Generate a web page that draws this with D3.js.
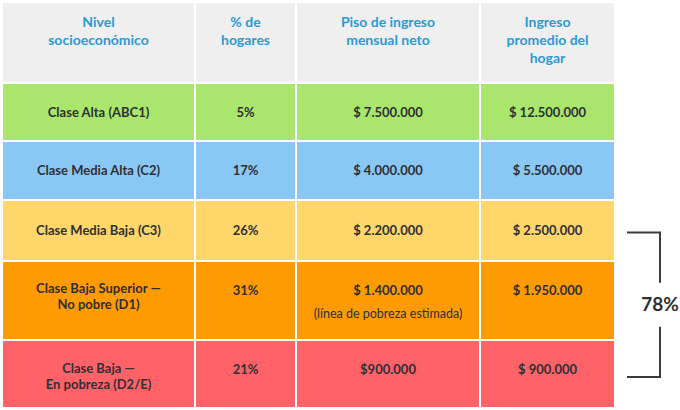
<!DOCTYPE html>
<html>
<head>
<meta charset="utf-8">
<script src="https://cdn.jsdelivr.net/npm/d3@7"></script>
<style>
  body { margin: 0; background: #fff; }
  svg { display: block; font-family: Lato, "Open Sans", sans-serif; }
</style>
</head>
<body>
<svg id="chart" width="680" height="410"></svg>
<script>
// --- datos de la tabla ---
const encabezados = [
  ["Nivel", "socioeconómico"],
  ["% de", "hogares"],
  ["Piso de ingreso", "mensual neto"],
  ["Ingreso", "promedio del", "hogar"]
];
const niveles = [
  ["Clase Alta (ABC1)"],
  ["Clase Media Alta (C2)"],
  ["Clase Media Baja (C3)"],
  ["Clase Baja Superior —", "No pobre (D1)"],
  ["Clase Baja —", "En pobreza (D2/E)"]
];
const hogares = [5, 17, 26, 31, 21];
const pisoIngreso = ["$ 7.500.000", "$ 4.000.000", "$ 2.200.000", "$ 1.400.000", "$900.000"];
const ingresoPromedio = ["$ 12.500.000", "$ 5.500.000", "$ 2.500.000", "$ 1.950.000", "$ 900.000"];
const notas = ["", "", "", "(línea de pobreza estimada)", ""];
const coloresFila = ["#a9e66b", "#89c7f5", "#fed66a", "#ff9b02", "#ff6367"];
const llaveTexto = "78%";

// --- layout ---
const svg = d3.select("#chart");
const gap = 2;
const colW = [191, 99, 182, 133];
const rowH = [79, 56, 57, 59, 77, 66]; // encabezado + 5 filas
const x0 = 3, y0 = 3;

const colX = [];
colW.reduce((acc, w) => { colX.push(acc); return acc + w + gap; }, x0);
const rowY = [];
rowH.reduce((acc, h) => { rowY.push(acc); return acc + h + gap; }, y0);
const colMid = colX.map((x, i) => x + colW[i] / 2);

const valShift = [0, 0, 0, -10, -4.5];
const labShift = [0, 0, 0, -4, 2];

// --- encabezado ---
const head = svg.append("g");
head.selectAll("rect")
  .data(encabezados)
  .enter().append("rect")
    .attr("x", (d, i) => colX[i])
    .attr("y", rowY[0])
    .attr("width", (d, i) => colW[i])
    .attr("height", rowH[0])
    .attr("fill", "#efefef");

encabezados.forEach((lineas, i) => {
  const t = head.append("text")
    .attr("text-anchor", "middle")
    .attr("fill", "#2a9ad6")
    .style("font-size", "14px")
    .style("font-weight", "bold");
  lineas.forEach((l, j) => {
    t.append("tspan").attr("x", colMid[i]).attr("y", 27 + j * 18).text(l);
  });
});

// --- filas ---
niveles.forEach((nivel, r) => {
  const y = rowY[r + 1], h = rowH[r + 1], mid = y + h / 2;
  const g = svg.append("g");

  g.selectAll("rect")
    .data(colW)
    .enter().append("rect")
      .attr("x", (d, i) => colX[i])
      .attr("y", y)
      .attr("width", d => d)
      .attr("height", h)
      .attr("fill", coloresFila[r]);

  const lh = 16;
  const lab = g.append("text")
    .attr("text-anchor", "middle")
    .attr("fill", "#2f2f36")
    .style("font-size", "13px")
    .style("font-weight", "bold");
  nivel.forEach((l, j) => {
    lab.append("tspan")
      .attr("x", colMid[0])
      .attr("y", mid - (nivel.length - 1) * lh / 2 + labShift[r] + j * lh)
      .attr("dy", "0.35em")
      .text(l);
  });

  const vy = mid + valShift[r];
  const valores = [hogares[r] + "%", pisoIngreso[r], ingresoPromedio[r]];
  valores.forEach((v, k) => {
    g.append("text")
      .attr("x", colMid[k + 1])
      .attr("y", vy)
      .attr("dy", "0.35em")
      .attr("text-anchor", "middle")
      .attr("fill", "#2f2f36")
      .style("font-size", "13px")
      .style("font-weight", "bold")
      .text(v);
  });

  if (notas[r]) {
    g.append("text")
      .attr("x", colMid[2])
      .attr("y", vy + 23)
      .attr("dy", "0.35em")
      .attr("text-anchor", "middle")
      .attr("fill", "#2f2f36")
      .style("font-size", "12.5px")
      .text(notas[r]);
  }
});

// --- llave 78% ---
const yTop = rowY[3] + rowH[3] / 2 + 2;
const yBot = rowY[5] + rowH[5] / 2 + 3;
const bx = 660, bx0 = 627, bMid = (yTop + yBot) / 2;
const llave = svg.append("g")
  .attr("fill", "none")
  .attr("stroke", "#3a3a3a")
  .attr("stroke-width", 2);
llave.append("path").attr("d", `M${bx0},${yTop}H${bx}V${bMid - 22}`);
llave.append("path").attr("d", `M${bx0},${yBot}H${bx}V${bMid + 22}`);
svg.append("text")
  .attr("x", bx)
  .attr("y", bMid)
  .attr("dy", "0.35em")
  .attr("text-anchor", "middle")
  .attr("fill", "#2f2f36")
  .style("font-size", "19px")
  .style("font-weight", "bold")
  .text(llaveTexto);
</script>
</body>
</html>
